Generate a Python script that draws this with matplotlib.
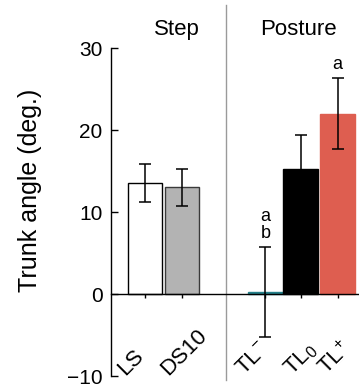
import matplotlib
matplotlib.use('Agg')
import matplotlib.pyplot as plt
from matplotlib.transforms import blended_transform_factory

plt.rcParams['font.family'] = ['Liberation Sans', 'DejaVu Sans']
plt.rcParams['mathtext.fontset'] = 'custom'
plt.rcParams['mathtext.rm'] = 'Liberation Sans'
plt.rcParams['mathtext.it'] = 'Liberation Sans'

# ---- data ----
categories = ['LS', 'DS10', 'TL-', 'TL0', 'TL+']
tick_labels = ['LS', 'DS10', r'TL$^{-}$', r'TL$_{0}$', r'TL$^{+}$']
means = [13.5, 13.0, 0.2, 15.2, 22.0]
errors = [2.3, 2.3, 5.5, 4.2, 4.3]
sig_letters = ['', '', 'a\nb', '', 'a']
group_titles = ['Step', 'Posture']
yticks = [-10, 0, 10, 20, 30]

# ---- style / layout ----
xpos = [0, 1, 3.25, 4.2, 5.2]
face = ['white', '#b3b3b3', '#25808a', 'black', '#de5e50']
edge = ['black', '#3a3a3a', '#25808a', 'black', '#de5e50']
label_dx = [-0.55, -0.38, -0.58, -0.22, -0.3]
title_x = [0.86, 4.15]
divider_x = 2.19

fig = plt.figure(figsize=(3.59, 3.89), dpi=100)
ax = fig.add_axes([111/359, 13/389, 248/359, 328/389])

ax.bar(xpos, means, width=0.93, color=face, edgecolor=edge, linewidth=1.0, zorder=2)
ax.errorbar(xpos, means, yerr=errors, fmt='none', ecolor='black',
            elinewidth=1.1, capsize=4, capthick=1.1, zorder=3)

ax.set_xlim(-0.92, 5.78)
ax.set_ylim(-10, 30)
ax.set_yticks(yticks)
ax.tick_params(axis='y', direction='in', length=5, width=1.0, labelsize=15, pad=6)

for s in ['top', 'right']:
    ax.spines[s].set_visible(False)
ax.spines['left'].set_linewidth(1.0)
ax.spines['bottom'].set_position(('data', 0))
ax.spines['bottom'].set_linewidth(1.0)
ax.set_xticks(xpos)
ax.tick_params(axis='x', direction='out', length=3, width=1.0, labelbottom=False)

for x, lab, dx in zip(xpos, tick_labels, label_dx):
    ax.text(x + dx, -10.0, lab, rotation=45, rotation_mode='anchor',
            ha='left', va='baseline', fontsize=16, clip_on=False)

for x, m, e, s in zip(xpos, means, errors, sig_letters):
    if s:
        ax.annotate(s, (x, m + e), xytext=(0, 4), textcoords='offset points',
                    ha='center', va='bottom', fontsize=13, linespacing=0.95,
                    annotation_clip=False)

for tx, t in zip(title_x, group_titles):
    ax.text(tx, 32.3, t, ha='center', va='center', fontsize=16, clip_on=False)

trans = blended_transform_factory(ax.transData, fig.transFigure)
ax.plot([divider_x, divider_x], [1 - 5/389, 1 - 380/389], color='#9a9a9a',
        lw=1.0, transform=trans, clip_on=False)

fig.text(30/359, 1 - 190/389, 'Trunk angle (deg.)', rotation=90,
         ha='center', va='center', fontsize=18)

fig.savefig('out.png', dpi=100)
